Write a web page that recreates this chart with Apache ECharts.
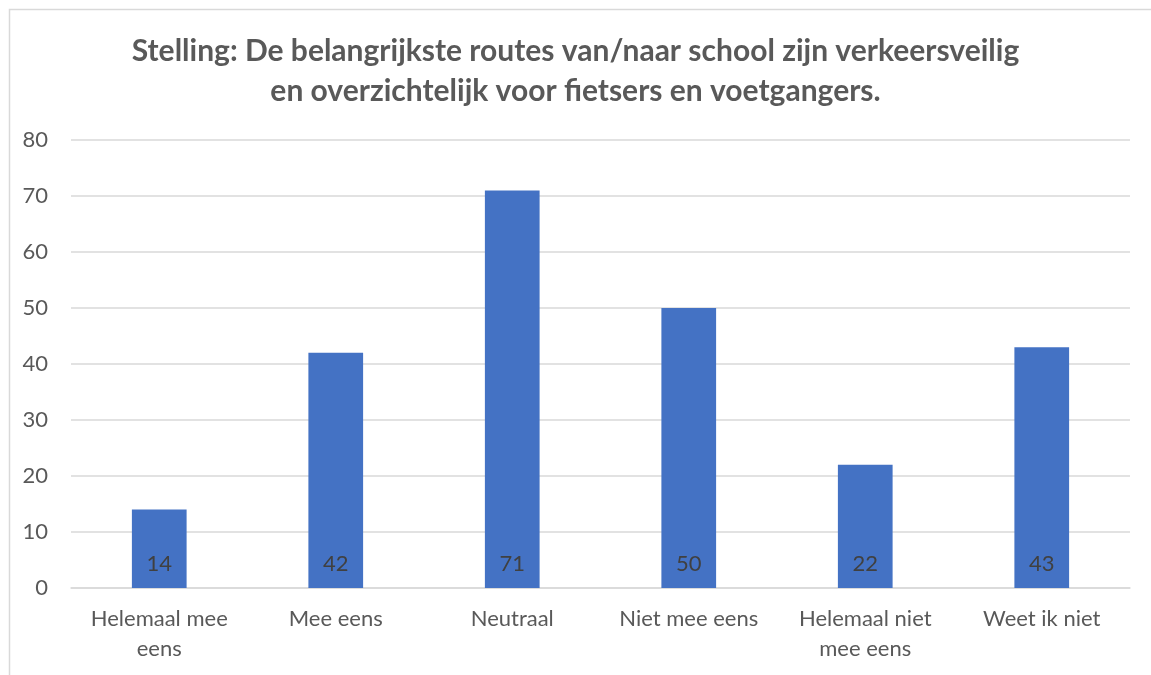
<!DOCTYPE html>
<html>
<head>
<meta charset="utf-8">
<script src="https://cdn.jsdelivr.net/npm/echarts@6/dist/echarts.min.js"></script>
<style>
  html, body { margin: 0; padding: 0; background: #fff; }
  #chart { width: 1151px; height: 675px; }
</style>
</head>
<body>
<div id="chart"></div>
<script>
// data
const categories = ['Helemaal mee\neens', 'Mee eens', 'Neutraal', 'Niet mee eens', 'Helemaal niet\nmee eens', 'Weet ik niet'];
const values = [14, 42, 71, 50, 22, 43];
const yTicks = { min: 0, max: 80, interval: 10 };

const chart = echarts.init(document.getElementById('chart'));
const font = 'Lato, "Open Sans", sans-serif';

const option = {
    animation: false,
    backgroundColor: '#fff',
    graphic: [{
        type: 'rect',
        left: 7, top: 7,
        shape: { width: 1170, height: 700 },
        style: { fill: 'none', stroke: '#d9d9d9', lineWidth: 1.5 },
        silent: true
    }],
    title: {
        text: 'Stelling: De belangrijkste routes van/naar school zijn verkeersveilig\nen overzichtelijk voor fietsers en voetgangers.',
        left: 'center',
        top: 26,
        textStyle: {
            fontFamily: font,
            fontSize: 30,
            fontWeight: 'bold',
            color: '#595959',
            lineHeight: 40
        }
    },
    grid: { left: 71, right: 21, top: 140, bottom: 87, containLabel: false },
    xAxis: {
        type: 'category',
        data: categories,
        axisLine: { lineStyle: { color: '#d9d9d9', width: 1.5 } },
        axisTick: { show: false },
        axisLabel: {
            fontFamily: font,
            fontSize: 22,
            color: '#595959',
            lineHeight: 30,
            margin: 16,
            interval: 0
        }
    },
    yAxis: {
        type: 'value',
        min: yTicks.min,
        max: yTicks.max,
        interval: yTicks.interval,
        axisLine: { show: false },
        axisTick: { show: false },
        splitLine: { lineStyle: { color: '#d9d9d9', width: 1.5 } },
        axisLabel: {
            fontFamily: font,
            fontSize: 22,
            color: '#595959',
            margin: 23
        }
    },
    series: [{
        type: 'bar',
        data: values,
        barWidth: '31%',
        itemStyle: { color: '#4472c4' },
        label: {
            show: true,
            position: 'insideBottom',
            distance: 13,
            fontFamily: font,
            fontSize: 22,
            color: '#404040'
        }
    }]
};

chart.setOption(option);
</script>
</body>
</html>
